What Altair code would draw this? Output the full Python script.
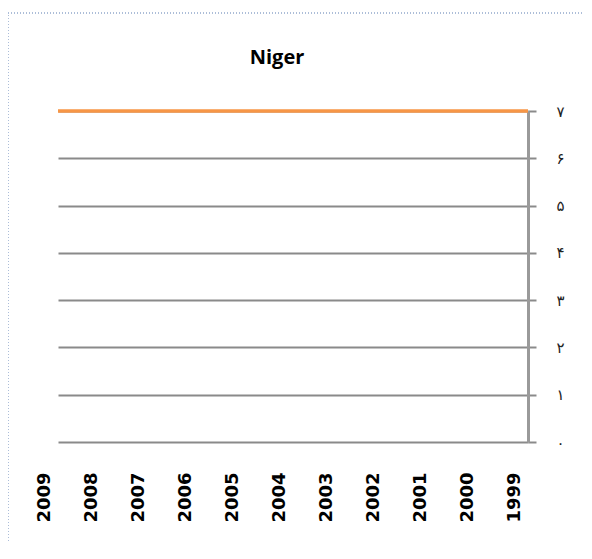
import json
import altair as alt
import pandas as pd

# ---- data ----
years = ["2009", "2008", "2007", "2006", "2005", "2004", "2003", "2002", "2001", "2000", "1999"]
values = [7, 7, 7, 7, 7, 7, 7, 7, 7, 7, 7]
y_ticks = [0, 1, 2, 3, 4, 5, 6, 7]
y_tick_labels = ["۰", "۱", "۲", "۳", "۴", "۵", "۶", "۷"]
title_text = "Niger"

df = pd.DataFrame({"year": years, "value": values})

label_expr = json.dumps(y_tick_labels, ensure_ascii=False) + "[datum.value]"

line = alt.Chart(df).mark_line(color="#f79646", strokeWidth=3.5).encode(
    x=alt.X(
        "year:N",
        sort=years,
        scale=alt.Scale(type="point", padding=0),
        axis=alt.Axis(
            title=None,
            labelAngle=270,
            labelFont="DejaVu Sans",
            labelFontWeight="bold",
            labelFontSize=18,
            labelColor="#000000",
            labelPadding=30,
            labelOffset=-14,
            labelFlush=False,
            ticks=False,
            domain=False,
            grid=False,
        ),
    ),
    y=alt.Y(
        "value:Q",
        scale=alt.Scale(domain=[0, 7], nice=False),
        axis=alt.Axis(
            title=None,
            orient="right",
            values=y_ticks,
            labelExpr=label_expr,
            labelFont="DejaVu Sans",
            labelFontSize=15,
            labelColor="#222222",
            labelPadding=20,
            tickSize=8,
            tickColor="#8a8a8a",
            tickWidth=2,
            domainColor="#9a9a9a",
            domainWidth=3,
            grid=True,
            gridColor="#8a8a8a",
            gridWidth=2,
        ),
    ),
)

frame = alt.Chart(pd.DataFrame({"k": [0]})).mark_rect(
    fillOpacity=0, stroke="#5b7db1", strokeWidth=1, strokeDash=[1, 2]
).encode(
    x=alt.value(-50), x2=alt.value(700), y=alt.value(-98), y2=alt.value(700)
)

chart = alt.layer(frame, line).properties(
    width=470,
    height=331,
    title=alt.TitleParams(
        title_text,
        font="Open Sans",
        fontWeight="bold",
        fontSize=20,
        color="#000000",
        anchor="middle",
        dx=-16,
        offset=-55,
    ),
    autosize=alt.AutoSizeParams(type="none"),
    padding={"left": 50, "top": 103, "right": 56, "bottom": 100},
).configure_view(stroke=None)

chart.save("out.html", embed_options={"renderer": "svg", "actions": False})
